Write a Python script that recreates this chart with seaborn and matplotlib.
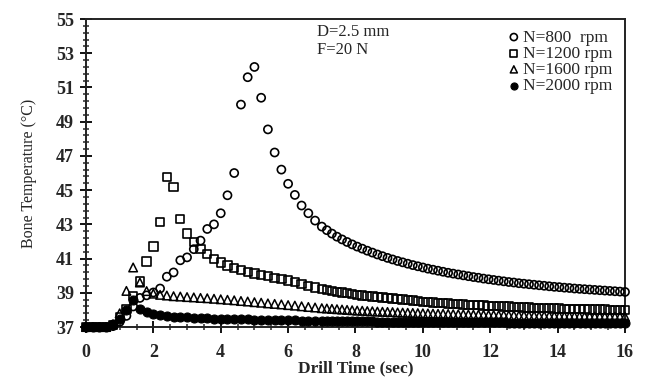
import numpy as np
import pandas as pd
import matplotlib
matplotlib.use("Agg")
import matplotlib.pyplot as plt
import seaborn as sns
from matplotlib.ticker import MultipleLocator

# drill time (sec): 0.2 s steps up to 7 s, then 0.15 s steps
time_s = [0.0, 0.2, 0.4, 0.6, 0.8, 1.0, 1.2, 1.4, 1.6, 1.8,
          2.0, 2.2, 2.4, 2.6, 2.8, 3.0, 3.2, 3.4, 3.6, 3.8,
          4.0, 4.2, 4.4, 4.6, 4.8, 5.0, 5.2, 5.4, 5.6, 5.8,
          6.0, 6.2, 6.4, 6.6, 6.8, 7.0,
          7.15, 7.3, 7.45, 7.6, 7.75, 7.9, 8.05, 8.2, 8.35, 8.5,
          8.65, 8.8, 8.95, 9.1, 9.25, 9.4, 9.55, 9.7, 9.85, 10.0,
          10.15, 10.3, 10.45, 10.6, 10.75, 10.9, 11.05, 11.2, 11.35, 11.5,
          11.65, 11.8, 11.95, 12.1, 12.25, 12.4, 12.55, 12.7, 12.85, 13.0,
          13.15, 13.3, 13.45, 13.6, 13.75, 13.9, 14.05, 14.2, 14.35, 14.5,
          14.65, 14.8, 14.95, 15.1, 15.25, 15.4, 15.55, 15.7, 15.85, 16.0]

temp_800 = [37.0, 37.0, 37.0, 37.0, 37.05, 37.3, 37.65, 38.2, 38.7, 38.85,
            39.02, 39.25, 39.94, 40.19, 40.9, 41.07, 41.55, 42.05, 42.73, 43.0,
            43.65, 44.7, 46.0, 50.0, 51.6, 52.2, 50.4, 48.55, 47.2, 46.2,
            45.37, 44.72, 44.1, 43.65, 43.22, 42.87,
            42.66, 42.46, 42.28, 42.12, 41.97, 41.83, 41.7, 41.58, 41.46, 41.35,
            41.24, 41.14, 41.04, 40.95, 40.86, 40.78, 40.7, 40.62, 40.55, 40.48,
            40.41, 40.35, 40.29, 40.23, 40.17, 40.12, 40.07, 40.02, 39.97, 39.92,
            39.88, 39.83, 39.79, 39.75, 39.71, 39.67, 39.63, 39.6, 39.56, 39.53,
            39.5, 39.47, 39.44, 39.41, 39.38, 39.35, 39.33, 39.3, 39.28, 39.25,
            39.23, 39.21, 39.19, 39.17, 39.15, 39.13, 39.11, 39.09, 39.07, 39.05]

temp_1200 = [37.0, 37.0, 37.0, 37.0, 37.1, 37.6, 38.05, 38.82, 39.66, 40.83,
             41.7, 43.12, 45.76, 45.17, 43.32, 42.47, 41.95, 41.56, 41.27, 40.97,
             40.77, 40.6, 40.45, 40.33, 40.22, 40.12, 40.04, 39.97, 39.88, 39.8,
             39.72, 39.62, 39.5, 39.4, 39.3, 39.22,
             39.16, 39.11, 39.06, 39.01, 38.97, 38.93, 38.89, 38.85, 38.81, 38.78,
             38.75, 38.72, 38.69, 38.66, 38.63, 38.6, 38.57, 38.54, 38.51, 38.48,
             38.46, 38.44, 38.42, 38.4, 38.38, 38.36, 38.34, 38.32, 38.3, 38.29,
             38.27, 38.26, 38.24, 38.23, 38.21, 38.2, 38.19, 38.17, 38.16, 38.15,
             38.14, 38.13, 38.12, 38.11, 38.1, 38.09, 38.08, 38.07, 38.06, 38.05,
             38.05, 38.04, 38.03, 38.03, 38.02, 38.02, 38.01, 38.01, 38.0, 38.0]

temp_1600 = [37.0, 37.0, 37.0, 37.0, 37.15, 37.8, 39.11, 40.48, 39.6, 39.1,
             38.95, 38.88, 38.84, 38.8, 38.78, 38.75, 38.73, 38.7, 38.68, 38.65,
             38.62, 38.59, 38.56, 38.52, 38.49, 38.45, 38.42, 38.38, 38.35, 38.32,
             38.28, 38.25, 38.21, 38.17, 38.14, 38.1,
             38.08, 38.06, 38.04, 38.02, 38.0, 37.98, 37.96, 37.95, 37.93, 37.92,
             37.9, 37.89, 37.88, 37.87, 37.85, 37.84, 37.83, 37.82, 37.81, 37.8,
             37.79, 37.78, 37.77, 37.77, 37.76, 37.75, 37.74, 37.74, 37.73, 37.72,
             37.72, 37.71, 37.7, 37.7, 37.69, 37.69, 37.68, 37.68, 37.67, 37.67,
             37.66, 37.66, 37.65, 37.65, 37.65, 37.64, 37.64, 37.63, 37.63, 37.63,
             37.62, 37.62, 37.62, 37.61, 37.61, 37.61, 37.6, 37.6, 37.6, 37.6]

temp_2000 = [37.0, 37.0, 37.0, 37.0, 37.15, 37.45, 38.0, 38.6, 38.05, 37.85,
             37.75, 37.68, 37.64, 37.61, 37.58, 37.56, 37.54, 37.52, 37.5, 37.49,
             37.48, 37.47, 37.46, 37.45, 37.44, 37.43, 37.42, 37.42, 37.41, 37.4,
             37.4, 37.39, 37.38, 37.38, 37.37, 37.36,
             37.36, 37.35, 37.35, 37.35, 37.34, 37.34, 37.34, 37.33, 37.33, 37.33,
             37.32, 37.32, 37.32, 37.31, 37.31, 37.31, 37.31, 37.3, 37.3, 37.3,
             37.3, 37.29, 37.29, 37.29, 37.29, 37.28, 37.28, 37.28, 37.28, 37.28,
             37.27, 37.27, 37.27, 37.27, 37.27, 37.27, 37.26, 37.26, 37.26, 37.26,
             37.26, 37.26, 37.26, 37.26, 37.25, 37.25, 37.25, 37.25, 37.25, 37.25,
             37.25, 37.25, 37.25, 37.25, 37.25, 37.25, 37.25, 37.25, 37.25, 37.25]

series_labels = ["N=800  rpm", "N=1200 rpm", "N=1600 rpm", "N=2000 rpm"]
series_values = [temp_800, temp_1200, temp_1600, temp_2000]

# long-form table for seaborn
df = pd.concat([pd.DataFrame({"time": time_s, "temp": v, "speed": lab})
                for lab, v in zip(series_labels, series_values)], ignore_index=True)

sns.set_style("ticks")
plt.rcParams["font.family"] = ["Liberation Serif", "DejaVu Serif"]

fig = plt.figure(figsize=(6.45, 3.81), dpi=100)
ax = fig.add_axes([0.1333, 0.1417, 0.8357, 0.8083])

styles = {
    "N=800  rpm": dict(marker="o", s=34, facecolor="none", edgecolor="black", linewidth=1.2),
    "N=1200 rpm": dict(marker="s", s=36, facecolor="none", edgecolor="black", linewidth=1.2),
    "N=1600 rpm": dict(marker="^", s=38, facecolor="none", edgecolor="black", linewidth=1.1),
    "N=2000 rpm": dict(marker="o", s=42, facecolor="black", edgecolor="black", linewidth=0.8),
}

for lab in series_labels:
    sub = df[df["speed"] == lab]
    sns.scatterplot(data=sub, x="time", y="temp", ax=ax, label=lab,
                    clip_on=False, zorder=3, **styles[lab])

ax.set_xlim(0, 16)
ax.set_ylim(37, 55)
ax.xaxis.set_major_locator(MultipleLocator(2))
ax.xaxis.set_minor_locator(MultipleLocator(0.5))
ax.yaxis.set_major_locator(MultipleLocator(2, offset=1))
ax.yaxis.set_minor_locator(MultipleLocator(0.4, offset=0.2))
ax.tick_params(axis="both", which="major", direction="inout", length=9, width=1.3,
               labelsize=13, color="black")
ax.tick_params(axis="y", which="major", pad=4)
ax.tick_params(axis="x", which="major", pad=8)
ax.tick_params(axis="both", which="minor", direction="inout", length=5, width=1.1)
for lbl in ax.get_xticklabels() + ax.get_yticklabels():
    lbl.set_fontweight("bold")

for sp in ax.spines.values():
    sp.set_visible(True)
    sp.set_linewidth(1.4)
    sp.set_color("#222222")

ax.set_xlabel("Drill Time (sec)", fontsize=12.5, fontweight="bold", labelpad=-1)
ax.set_ylabel("Bone Temperature (\u00b0C)", fontsize=11.5, labelpad=14)

ax.text(0.428, 0.985, "D=2.5 mm", transform=ax.transAxes, fontsize=12, va="top")
ax.text(0.428, 0.925, "F=20 N", transform=ax.transAxes, fontsize=12, va="top")

leg = ax.legend(loc="upper right", frameon=False, fontsize=12.5, handletextpad=0.05,
                labelspacing=0.0, borderaxespad=0.2, handlelength=0.9,
                bbox_to_anchor=(0.995, 1.0))
for h in leg.legend_handles:
    h.set_sizes([26])

fig.savefig("out.png", dpi=100)
